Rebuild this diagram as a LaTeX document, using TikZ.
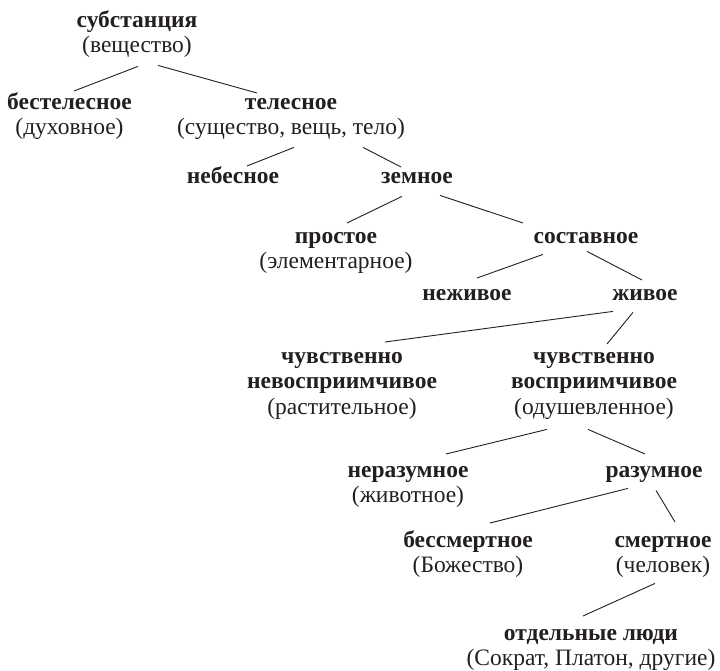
\documentclass[tikz,border=0pt]{standalone}
\usepackage{fontspec}
\setmainfont{Liberation Serif}
\definecolor{ink}{HTML}{231F20}
\newcommand{\lstrut}{\rule[-7pt]{0pt}{25pt}}
\newcommand{\tb}[1]{\lstrut\textbf{#1}}
\newcommand{\pl}[1]{\lstrut#1}
\tikzset{
  term/.style={anchor=north, inner sep=0pt, align=center, text=ink,
    font=\fontsize{23.5}{25.5}\selectfont},
  link/.style={draw=ink, line width=0.9pt}
}
\begin{document}
\begin{tikzpicture}[x=1pt,y=-1pt]
\useasboundingbox (0,0) rectangle (720,671);
\node[term] (sub)   at (137,9)    {\tb{субстанция}\\\pl{(вещество)}};
\node[term] (best)  at (69.5,91)  {\tb{бестелесное}\\\pl{(духовное)}};
\node[term] (tel)   at (291,91)   {\tb{телесное}\\\pl{(существо, вещь, тело)}};
\node[term] (neb)   at (233,165)  {\tb{небесное}};
\node[term] (zem)   at (417,165)  {\tb{земное}};
\node[term] (prost) at (336,225)  {\tb{простое}\\\pl{(элементарное)}};
\node[term] (sost)  at (586,225)  {\tb{составное}};
\node[term] (nezh)  at (467,282)  {\tb{неживое}};
\node[term] (zhiv)  at (645,282)  {\tb{живое}};
\node[term] (chL)   at (342,345)  {\tb{чувственно}\\\tb{невосприимчивое}\\\pl{(растительное)}};
\node[term] (chR)   at (594,345)  {\tb{чувственно}\\\tb{восприимчивое}\\\pl{(одушевленное)}};
\node[term] (nera)  at (408,459)  {\tb{неразумное}\\\pl{(животное)}};
\node[term] (raz)   at (654,459)  {\tb{разумное}};
\node[term] (bess)  at (468,529)  {\tb{бессмертное}\\\pl{(Божество)}};
\node[term] (smert) at (663,529)  {\tb{смертное}\\\pl{(человек)}};
\node[term] (otd)   at (591,622)  {\tb{отдельные люди}\\\pl{(Сократ, Платон, другие)}};

\draw[link] ([shift={(1,6.5)}]sub.south) -- ([shift={(4.5,0)}]best.north);
\draw[link] ([shift={(21,5.5)}]sub.south) -- ([shift={(-34,2)}]tel.north);
\draw[link] ([shift={(3,5.5)}]tel.south) -- ([shift={(14,1)}]neb.north);
\draw[link] ([shift={(72,5.5)}]tel.south) -- ([shift={(-16,2)}]zem.north);
\draw[link] ([shift={(-15,6)}]zem.south) -- ([shift={(11,-2)}]prost.north);
\draw[link] ([shift={(23,5)}]zem.south) -- ([shift={(-63,-2)}]sost.north);
\draw[link] ([shift={(-43,4)}]sost.south) -- ([shift={(10,-4)}]nezh.north);
\draw[link] ([shift={(1,1)}]sost.south) -- ([shift={(-3,-2)}]zhiv.north);
\draw[link] ([shift={(-32,4)}]zhiv.south) -- ([shift={(43,-3)}]chL.north);
\draw[link] ([shift={(-12,5)}]zhiv.south) -- ([shift={(13,-1)}]chR.north);
\draw[link] ([shift={(-47,8)}]chR.south) -- ([shift={(38,-5)}]nera.north);
\draw[link] ([shift={(-6,8)}]chR.south) -- ([shift={(-9,-5)}]raz.north);
\draw[link] ([shift={(-26,4)}]raz.south) -- ([shift={(22,-6)}]bess.north);
\draw[link] ([shift={(2,6)}]raz.south) -- ([shift={(12,-7)}]smert.north);
\draw[link] ([shift={(-8,3.5)}]smert.south) -- ([shift={(-8,-6)}]otd.north);
\end{tikzpicture}
\end{document}
